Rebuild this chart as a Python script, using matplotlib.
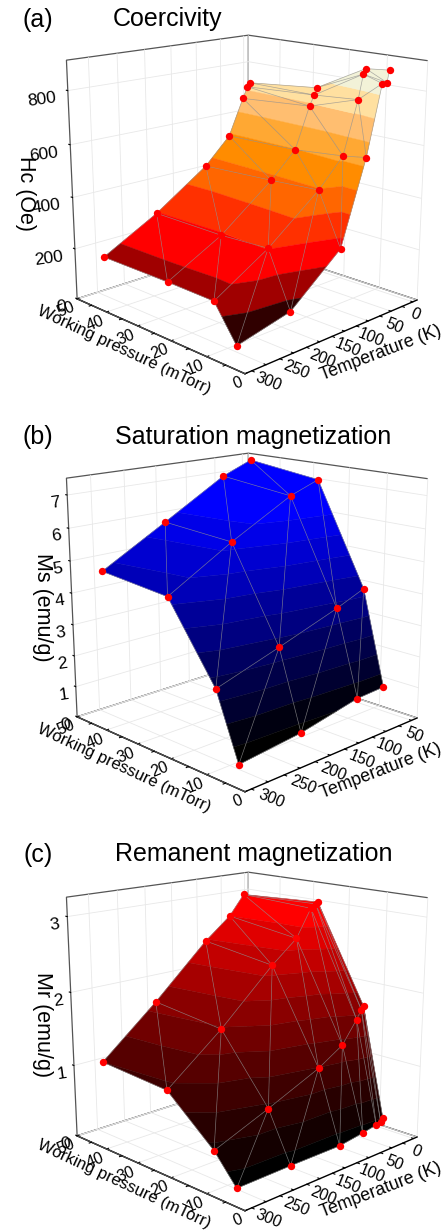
import numpy as np
import matplotlib
matplotlib.use('Agg')
import matplotlib.pyplot as plt
import matplotlib.tri as mtri
from mpl_toolkits.mplot3d.art3d import Poly3DCollection, Line3DCollection

plt.rcParams['font.family'] = ['Liberation Sans', 'DejaVu Sans']

W, H = 447, 1231

pressure = [7.6, 13.7, 27.0, 47.3]
temps_full = [300, 200, 100, 50, 20, 10, 5]
temps_short = [300, 200, 100, 50]
pressure_ticks = [0, 10, 20, 30, 40, 50]

hc = [[23, 71, 240, 558, 820, 820, 864],
      [152, 278, 439, 544, 745, 837, 856],
      [156, 269, 428, 525, 685, 725, 752],
      [156, 272, 415, 518, 663, 708, 723]]
ms = [[0.14, 0.35, 0.75, 0.80],
      [2.13, 2.77, 3.44, 3.83],
      [4.40, 5.60, 6.67, 7.03],
      [4.60, 5.76, 6.94, 7.34]]
mr = [[0.01, 0.02, 0.02, 0.07, 0.11, 0.13, 0.17],
      [0.38, 0.68, 1.00, 1.22, 1.52, 1.64, 1.68],
      [0.94, 1.55, 2.25, 2.55, 2.93, 2.98, 3.00],
      [1.01, 1.67, 2.39, 2.69, 2.97]]

hc_levels = [0, 107, 191, 275, 359, 443, 527, 611, 695, 780, 900]
ms_levels = [0, 0.6, 1.2, 1.8, 2.4, 3.0, 3.6, 4.2, 4.8, 5.4, 6.0, 8.0]
mr_levels = [-1, 0.17, 0.45, 0.73, 1.01, 1.29, 1.57, 1.85, 2.13, 2.41, 2.69, 4.0]

hc_colors = ['#300000', '#a00000', '#ff0000', '#ff3000', '#ff6600', '#ff8c00',
             '#ffa833', '#ffbe70', '#ffe0a0', '#f2f2d8']
ms_colors = ['#000000', '#000010', '#000030', '#000048', '#000060', '#000080',
             '#000098', '#0000b8', '#0000d0', '#0000e8', '#0000ff']
mr_colors = ['#000000', '#140000', '#280000', '#3e0000', '#560000', '#700000',
             '#8a0000', '#a60000', '#c20000', '#e00000', '#ff0000']

panels = [
    dict(tag='(a)', title='Coercivity', zlabel='Hc (Oe)', z=hc, temps=temps_full, colors=hc_colors, levels=hc_levels,
         tlim=(-10.2, 336.7), zmax=910, zticks=[0, 200, 400, 600, 800], zpad=-3,
         tticks=[0, 50, 100, 150, 200, 250, 300], dy=0, tag_y=20, title_xy=(168, 19), zl_xy=(25, 194), wp_y=350),
    dict(tag='(b)', title='Saturation magnetization', zlabel='Ms (emu/g)', z=ms, temps=temps_short, colors=ms_colors, levels=ms_levels,
         tlim=(38.8, 334.4), zmax=7.5, zticks=[0, 1, 2, 3, 4, 5, 6, 7], zpad=-5,
         tticks=[50, 100, 150, 200, 250, 300], dy=418, tag_y=437, title_xy=(253, 437), zl_xy=(42, 607), wp_y=768),
    dict(tag='(c)', title='Remanent magnetization', zlabel='Mr (emu/g)', z=mr, temps=temps_full, colors=mr_colors, levels=mr_levels,
         tlim=(-8.3, 336.5), zmax=3.25, zticks=[0, 1, 2, 3], zpad=-5,
         tticks=[0, 50, 100, 150, 200, 250, 300], dy=837, tag_y=855, title_xy=(254, 854), zl_xy=(42, 1025), wp_y=1184),
]

ELEV, AZIM, FOCAL, ZASP, ZOOM, CX, CY = 15.671, 135.532, 0.4607, 1.001, 0.947, 240.915, 189.518
SIDE = 440


def clip(poly, lev, keep_above):
    out = []
    n = len(poly)
    for i in range(n):
        a, b = poly[i], poly[(i + 1) % n]
        ina = a[2] >= lev if keep_above else a[2] <= lev
        inb = b[2] >= lev if keep_above else b[2] <= lev
        if ina:
            out.append(a)
        if ina != inb:
            t = (lev - a[2]) / (b[2] - a[2])
            out.append(tuple(a[k] + t * (b[k] - a[k]) for k in range(3)))
    return out


fig = plt.figure(figsize=(W / 100, H / 100), dpi=100, facecolor='white')


def px(x, y):
    return x / W, 1 - y / H


for P in panels:
    ax = fig.add_axes([(CX - SIDE / 2) / W, 1 - (CY + P['dy'] + SIDE / 2) / H, SIDE / W, SIDE / H],
                      projection='3d', computed_zorder=False)
    ax.patch.set_visible(False)
    ax.view_init(elev=ELEV, azim=AZIM)
    ax.set_proj_type('persp', focal_length=FOCAL)
    ax.set_box_aspect((1, 1, ZASP), zoom=ZOOM)
    ax.set_xlim(0, 50, view_margin=0)
    ax.set_ylim(*P['tlim'], view_margin=0)
    ax.set_zlim(0, P['zmax'], view_margin=0)

    index, xs, ys, zs = {}, [], [], []
    for i, col in enumerate(P['z']):
        for j, v in enumerate(col):
            index[(i, j)] = len(xs)
            xs.append(pressure[i]); ys.append(P['temps'][j]); zs.append(v)
    xs, ys, zs = np.array(xs), np.array(ys, float), np.array(zs, float)

    triangles = []
    for i in range(len(P['z']) - 1):
        for j in range(len(P['temps']) - 1):
            a, b = index.get((i, j)), index.get((i + 1, j))
            c, d = index.get((i, j + 1)), index.get((i + 1, j + 1))
            if d is not None:
                triangles += [[a, b, d], [a, c, d]]
            else:
                last = max(k for k in range(len(P['temps'])) if (i + 1, k) in index)
                triangles.append([a, index[(i + 1, last)], c])
    tri = mtri.Triangulation(xs, ys, triangles)

    nb = len(P['colors'])
    levels = P['levels']
    polys, cols = [], []
    for t in tri.triangles:
        verts = [(xs[k], ys[k], zs[k]) for k in t]
        for b in range(nb):
            poly = clip(verts, levels[b], True)
            if poly:
                poly = clip(poly, levels[b + 1], False)
            if len(poly) >= 3:
                polys.append(poly)
                cols.append(P['colors'][b])
    coll = Poly3DCollection(polys, facecolors=cols, edgecolors=cols, linewidths=0.3, zorder=2)
    ax.add_collection3d(coll)

    segs = [[(xs[a], ys[a], zs[a]), (xs[b], ys[b], zs[b])] for a, b in tri.edges]
    ax.add_collection3d(Line3DCollection(segs, colors='#8a8a8a', linewidths=0.5, alpha=0.7, zorder=3))
    ax.scatter(xs, ys, zs, s=28, c='#ff0000', linewidths=0, depthshade=False, zorder=4)

    ax.set_xticks(pressure_ticks)
    ax.set_yticks(P['tticks'])
    ax.set_zticks(P['zticks'])
    ax.tick_params(axis='x', labelsize=11.5, labelrotation=22, pad=-7.5)
    ax.tick_params(axis='y', labelsize=11.5, labelrotation=-22, pad=-5.5)
    ax.tick_params(axis='z', labelsize=12.5, labelrotation=8, pad=P['zpad'])
    ax.zaxis._axinfo['juggled'] = (1, 0, 2)
    for lab in ax.get_zticklabels() + ax.get_xticklabels():
        lab.set_ha('right')

    for axis, lw, col in [(ax.xaxis, 1.0, 'black'), (ax.yaxis, 1.0, 'black'), (ax.zaxis, 0.9, '#505050')]:
        axis.set_pane_color((1, 1, 1, 1))
        axis.pane.set_edgecolor('#555555')
        axis.pane.set_linewidth(0.9)
        axis.line.set_color(col)
        axis.line.set_linewidth(lw)
        axis._axinfo['grid'].update(color='#e8e8e8', linewidth=0.6)
        axis._axinfo['tick'].update(inward_factor=0.0, outward_factor=0.12)

    tlo, thi = P['tlim']
    for p in [5, 15, 25, 35, 45]:
        ax.plot([p, p], [thi, thi + 0.012 * (thi - tlo)], [0, 0], color='black', lw=0.8, zorder=1)
    for t in range(25, 326, 50):
        if tlo < t < thi:
            ax.plot([0, -0.6], [t, t], [0, 0], color='black', lw=0.8, zorder=1)

    fig.text(*px(38, P['tag_y']), P['tag'], fontsize=18, ha='center', va='center')
    fig.text(*px(*P['title_xy']), P['title'], fontsize=18, ha='center', va='center')
    fig.text(*px(*P['zl_xy']), P['zlabel'], fontsize=15.5, rotation=270, ha='center', va='center')
    fig.text(*px(124, P['wp_y']), 'Working pressure (mTorr)', fontsize=12.0, rotation=-25,
             ha='center', va='center', rotation_mode='anchor')
    fig.text(*px(381, 353 + P['dy']), 'Temperature (K)', fontsize=12.8, rotation=21,
             ha='center', va='center', rotation_mode='anchor')

fig.savefig('out.png', dpi=100)
